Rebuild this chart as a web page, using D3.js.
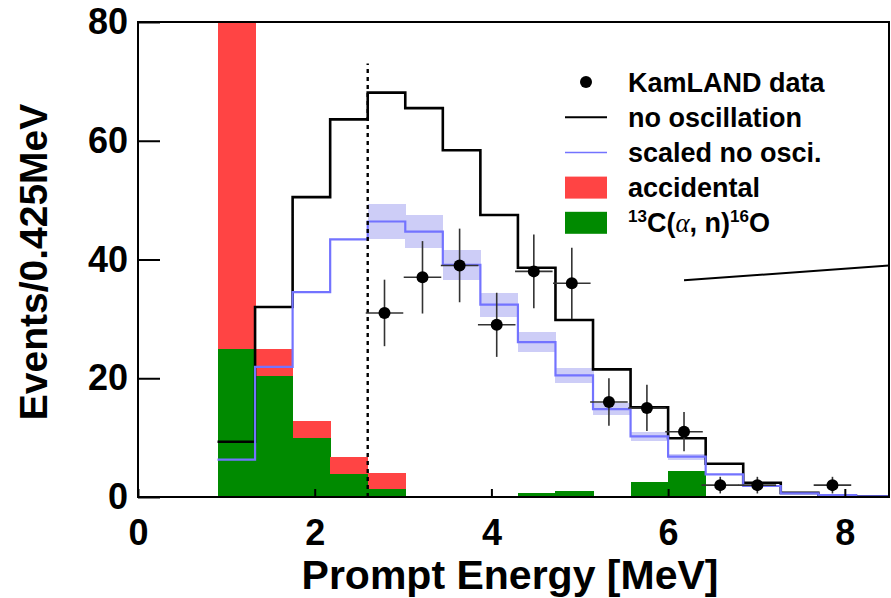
<!DOCTYPE html>
<html lang="en">
<head>
    <meta charset="UTF-8">
    <title>KamLAND prompt energy</title>
    <script src="https://d3js.org/d3.v7.min.js"></script>
    <style>
        body { margin: 0; background: #fff; }
        text { font-family: "Liberation Sans", Arial, sans-serif; font-weight: bold; fill: #000; }
        .an, .acc, .band { shape-rendering: crispEdges; }
    </style>
</head>
<body>
    <svg></svg>

    <script>
        // bin edges (0.425 MeV bins)
        const edges = [0.9, 1.325, 1.75, 2.175, 2.6, 3.025, 3.45, 3.875, 4.3, 4.725, 5.15, 5.575, 6.0, 6.425, 6.85, 7.275, 7.7, 8.125, 8.55];

        // expectations per bin
        const noOsc    = [9.3, 32, 50.5, 63.6, 68.1, 65.5, 58.4, 47.5, 38.6, 29.8, 21.5, 15.1, 9.9, 5.6, 2.4, 0.7, 0.3, 0.1];
        const scaled   = [6.3, 21.9, 34.5, 43.4, 46.4, 44.7, 39.1, 32.4, 26.1, 20.5, 14.8, 10.2, 6.8, 3.8, 1.85, 0.6, 0.3, 0.1];
        const scaledErr = [0, 0, 0, 0, 3.0, 2.8, 2.5, 2.0, 1.7, 1.3, 1.0, 0.8, 0.5, 0, 0, 0, 0, 0];

        // backgrounds per bin (stacked: 13C(a,n) at bottom, accidental on top)
        const alphaN     = [25, 20.3, 10, 3.9, 1.4, 0.1, 0, 0, 0.7, 1.0, 0, 2.6, 4.3, 0, 0, 0, 0, 0];
        const accidental = [80, 4.7, 2.8, 2.9, 2.6, 0.15, 0, 0, 0, 0, 0, 0, 0, 0, 0, 0, 0, 0];

        // KamLAND data points
        const dataE   = [2.79, 3.22, 3.64, 4.06, 4.48, 4.91, 5.33, 5.76, 6.18, 6.59, 7.01, 7.86];
        const dataN   = [31, 37, 39, 29, 38, 36, 16, 15, 11, 2, 2, 2];
        const dataErr = [5.6, 6.1, 6.2, 5.4, 6.2, 6.0, 4.0, 3.9, 3.3, 1.4, 1.4, 1.4];

        const xTicks = [0, 2, 4, 6, 8];
        const yTicks = [0, 20, 40, 60, 80];
        const threshold = 2.6;

        const legendItems = ["KamLAND data", "no oscillation", "scaled no osci.", "accidental", "alphaN"];

        const width = 891, height = 598;
        const margin = {top: 22, bottom: 101, right: 1, left: 138};
        const halfBin = 0.2125;

        const svg = d3.select('svg')
            .attr('width', width)
            .attr('height', height)
            .attr('viewBox', [0, 0, width, height]);

        const x = d3.scaleLinear().domain([0, 8.5]).range([margin.left, width - margin.right - 1]);
        const y = d3.scaleLinear().domain([0, 80]).range([height - margin.bottom, margin.top]);

        svg.append('clipPath').attr('id', 'plot')
            .append('rect')
            .attr('x', x(0)).attr('y', y(80))
            .attr('width', x(8.5) - x(0)).attr('height', y(0) - y(80));

        const plot = svg.append('g').attr('clip-path', 'url(#plot)');

        const bins = d3.range(noOsc.length).map(i => ({
            lo: edges[i], hi: edges[i + 1],
            noOsc: noOsc[i], scaled: scaled[i], err: scaledErr[i],
            an: alphaN[i], acc: accidental[i]
        }));

        // error band of scaled expectation
        plot.selectAll('rect.band')
            .data(bins.filter(d => d.err > 0))
            .join('rect')
            .attr('class', 'band')
            .attr('x', d => x(d.lo))
            .attr('width', d => x(d.hi) - x(d.lo) + 0.5)
            .attr('y', d => y(d.scaled + d.err))
            .attr('height', d => y(d.scaled - d.err) - y(d.scaled + d.err))
            .attr('fill', '#cdcdf7');

        // stacked backgrounds
        plot.selectAll('rect.an')
            .data(bins.filter(d => d.an > 0))
            .join('rect')
            .attr('class', 'an')
            .attr('x', d => x(d.lo))
            .attr('width', d => x(d.hi) - x(d.lo) + 0.5)
            .attr('y', d => y(d.an))
            .attr('height', d => y(0) - y(d.an))
            .attr('fill', '#008a00');

        plot.selectAll('rect.acc')
            .data(bins.filter(d => d.acc > 0))
            .join('rect')
            .attr('class', 'acc')
            .attr('x', d => x(d.lo))
            .attr('width', d => x(d.hi) - x(d.lo) + 0.5)
            .attr('y', d => y(d.an + d.acc))
            .attr('height', d => y(d.an) - y(d.an + d.acc))
            .attr('fill', '#ff4444');

        // step outline without drops at the ends
        function steps(key) {
            const pts = [];
            bins.forEach(d => {
                pts.push([x(d.lo), y(d[key])]);
                pts.push([x(d.hi), y(d[key])]);
            });
            return d3.line()(pts);
        }

        plot.append('path')
            .attr('d', steps('noOsc'))
            .attr('fill', 'none')
            .attr('stroke', '#000')
            .attr('stroke-width', 2.6);

        plot.append('path')
            .attr('d', steps('scaled'))
            .attr('fill', 'none')
            .attr('stroke', '#7373ff')
            .attr('stroke-width', 2.2);

        // analysis threshold
        plot.append('line')
            .attr('x1', x(threshold)).attr('x2', x(threshold))
            .attr('y1', y(0)).attr('y2', y(73))
            .attr('stroke', '#000')
            .attr('stroke-width', 2.4)
            .attr('stroke-dasharray', '4,4');

        // data with error bars
        const pts = dataE.map((e, i) => ({e: e, n: dataN[i], err: dataErr[i]}));
        const dg = plot.selectAll('g.pt').data(pts).join('g').attr('class', 'pt');
        dg.append('line')
            .attr('x1', d => x(d.e)).attr('x2', d => x(d.e))
            .attr('y1', d => y(d.n - d.err)).attr('y2', d => y(d.n + d.err))
            .attr('stroke', '#333').attr('stroke-width', 1.6);
        dg.append('line')
            .attr('x1', d => x(d.e - halfBin)).attr('x2', d => x(d.e + halfBin))
            .attr('y1', d => y(d.n)).attr('y2', d => y(d.n))
            .attr('stroke', '#333').attr('stroke-width', 1.6);
        dg.append('circle')
            .attr('cx', d => x(d.e)).attr('cy', d => y(d.n))
            .attr('r', 6).attr('fill', '#000');

        // pointer line
        plot.append('line')
            .attr('x1', x(6.18)).attr('y1', y(36.5))
            .attr('x2', x(8.5)).attr('y2', y(39))
            .attr('stroke', '#000').attr('stroke-width', 2);

        // axes
        const xAxis = d3.axisBottom(x).tickValues(xTicks).tickSize(-8).tickSizeOuter(0).tickPadding(22);
        const yAxis = d3.axisLeft(y).tickValues(yTicks).tickSize(-22).tickSizeOuter(0).tickPadding(10);

        const gx = svg.append('g')
            .attr('transform', `translate(0,${y(0)})`)
            .call(xAxis);
        const gy = svg.append('g')
            .attr('transform', `translate(${x(0)},0)`)
            .call(yAxis);

        [gx, gy].forEach(g => {
            g.select('.domain').remove();
            g.selectAll('.tick line').attr('stroke', '#000').attr('stroke-width', 2);
            g.selectAll('.tick text')
                .attr('font-family', '"Liberation Sans", Arial, sans-serif')
                .attr('font-weight', 'bold')
                .attr('font-size', 36)
                .attr('fill', '#000');
        });

        // frame
        svg.append('rect')
            .attr('x', x(0)).attr('y', y(80))
            .attr('width', x(8.5) - x(0)).attr('height', y(0) - y(80))
            .attr('fill', 'none')
            .attr('stroke', '#000')
            .attr('stroke-width', 2);

        // axis titles
        svg.append('text')
            .attr('x', 510).attr('y', 589)
            .attr('text-anchor', 'middle')
            .attr('font-size', 41)
            .text('Prompt Energy [MeV]');

        svg.append('text')
            .attr('transform', 'translate(47,262) rotate(-90)')
            .attr('text-anchor', 'middle')
            .attr('font-size', 39)
            .text('Events/0.425MeV');

        // legend
        const lg = svg.append('g');
        const rowY = i => 82 + i * 35.2;
        const symX0 = 565, symX1 = 607, textX = 628;

        lg.append('circle').attr('cx', 586).attr('cy', rowY(0)).attr('r', 6).attr('fill', '#000');
        lg.append('line').attr('x1', symX0).attr('x2', symX1).attr('y1', rowY(1)).attr('y2', rowY(1))
            .attr('stroke', '#000').attr('stroke-width', 2);
        lg.append('line').attr('x1', symX0).attr('x2', symX1).attr('y1', rowY(2)).attr('y2', rowY(2))
            .attr('stroke', '#7373ff').attr('stroke-width', 1.5);
        lg.append('rect').attr('x', symX0).attr('y', rowY(3) - 11).attr('width', symX1 - symX0).attr('height', 22)
            .attr('fill', '#ff4444');
        lg.append('rect').attr('x', symX0).attr('y', rowY(4) - 11).attr('width', symX1 - symX0).attr('height', 22)
            .attr('fill', '#008a00');

        legendItems.forEach((label, i) => {
            const t = lg.append('text')
                .attr('x', textX)
                .attr('y', rowY(i) + 9.5)
                .attr('font-size', 27);
            if (label === 'alphaN') {
                t.append('tspan').attr('font-size', 17).attr('dy', -10).text('13');
                t.append('tspan').attr('dy', 10).text('C(');
                t.append('tspan').attr('font-family', '"Liberation Serif", serif').attr('font-style', 'italic').attr('font-weight', 'normal').text('α');
                t.append('tspan').text(', n)');
                t.append('tspan').attr('font-size', 17).attr('dy', -10).text('16');
                t.append('tspan').attr('dy', 10).text('O');
            } else {
                t.text(label);
            }
        });
    </script>
</body>
</html>
